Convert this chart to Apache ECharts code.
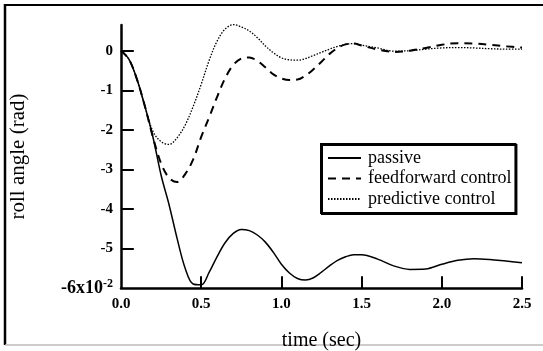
<!DOCTYPE html>
<html>
<head>
<meta charset="utf-8">
<script src="https://cdn.jsdelivr.net/npm/echarts@6/dist/echarts.min.js"></script>
<style>
  html, body { margin: 0; padding: 0; background: #fff; }
  #chart { width: 543px; height: 351px; }
</style>
</head>
<body>
<div id="chart"></div>
<script>
// time samples (sec)
const times = [0, 0.05, 0.1, 0.15, 0.2, 0.25, 0.3, 0.35, 0.4, 0.45, 0.5, 0.55, 0.6, 0.65, 0.7, 0.75, 0.8, 0.85, 0.9, 0.95,
  1.0, 1.05, 1.1, 1.15, 1.2, 1.25, 1.3, 1.35, 1.4, 1.45, 1.5, 1.6, 1.7, 1.8, 1.9, 2.0, 2.1, 2.2, 2.3, 2.4, 2.5];

// roll angle, in units of 10^-2 rad
const passive = [0, -0.22, -0.73, -1.42, -2.2, -3.15, -3.9, -4.75, -5.5, -5.9, -5.92, -5.6, -5.2, -4.85, -4.62, -4.52, -4.55, -4.66, -4.84, -5.1,
  -5.4, -5.62, -5.76, -5.8, -5.74, -5.6, -5.44, -5.3, -5.21, -5.16, -5.16, -5.27, -5.44, -5.53, -5.52, -5.4, -5.3, -5.26, -5.28, -5.32, -5.36];
const feedforward = [0, -0.22, -0.73, -1.42, -2.2, -2.85, -3.22, -3.32, -3.12, -2.75, -2.18, -1.68, -1.16, -0.69, -0.36, -0.2, -0.17, -0.26, -0.42, -0.6,
  -0.7, -0.74, -0.73, -0.63, -0.47, -0.28, -0.08, 0.07, 0.16, 0.18, 0.13, 0.03, -0.03, 0.0, 0.07, 0.15, 0.19, 0.18, 0.15, 0.11, 0.08];
const predictive = [0, -0.22, -0.73, -1.42, -2.05, -2.3, -2.37, -2.2, -1.88, -1.41, -0.85, -0.24, 0.25, 0.55, 0.66, 0.6, 0.5, 0.33, 0.12, -0.05,
  -0.18, -0.23, -0.24, -0.2, -0.12, -0.04, 0.04, 0.11, 0.16, 0.18, 0.14, 0.07, -0.01, 0.0, 0.04, 0.07, 0.08, 0.07, 0.05, 0.04, 0.04];

const yTicks = [-6, -5, -4, -3, -2, -1, 0];
const xTicks = [0, 0.5, 1.0, 1.5, 2.0, 2.5];

const FONT = "'Liberation Serif', 'DejaVu Serif', serif";
const Y_MIN = -6;
const X_MIN = 0;
// inward tick length, in axis units
const X_TICK_LEN = 0.3;
const Y_TICK_LEN = 0.08;

function pairs(ys) {
  return times.map((t, i) => [t, ys[i]]);
}

// tick marks as short mark lines, positioned through the axis scales
const tickLines = [
  ...xTicks.filter((v) => v !== X_MIN).map((v) => [{ coord: [v, Y_MIN] }, { coord: [v, Y_MIN + X_TICK_LEN] }]),
  ...yTicks.filter((v) => v !== Y_MIN).map((v) => [{ coord: [X_MIN, v] }, { coord: [X_MIN + Y_TICK_LEN, v] }]),
];

const chart = echarts.init(document.getElementById("chart"));

chart.setOption({
  animation: false,
  backgroundColor: "#fff",
  textStyle: { fontFamily: FONT, color: "#000" },
  grid: { left: 121, right: 21, top: 25, bottom: 63, outerBoundsMode: "none", containLabel: false },
  legend: {
    orient: "vertical",
    left: 321,
    top: 144,
    padding: [4, 4, 4, 6],
    itemGap: 0.5,
    itemWidth: 33,
    itemHeight: 20,
    borderColor: "#000",
    borderWidth: 2,
    shadowColor: "#000",
    shadowOffsetX: 1,
    shadowOffsetY: 1,
    shadowBlur: 0,
    backgroundColor: "#fff",
    itemStyle: { opacity: 0 },
    textStyle: { fontFamily: FONT, fontSize: 18, lineHeight: 20, color: "#000", padding: [0, 0, 0, 2] },
    data: ["passive", "feedforward control", "predictive control"],
  },
  xAxis: {
    type: "value",
    min: X_MIN,
    max: 2.5,
    interval: 0.5,
    name: "time (sec)",
    nameLocation: "middle",
    nameGap: 43,
    nameTextStyle: { fontFamily: FONT, fontSize: 20, color: "#000" },
    axisLine: { show: true, onZero: false, lineStyle: { color: "#000", width: 2.5 } },
    axisTick: { show: false },
    axisLabel: {
      margin: 9,
      fontFamily: FONT,
      fontSize: 15,
      fontWeight: "bold",
      color: "#000",
      customValues: xTicks,
      formatter: (v) => v.toFixed(1),
    },
    splitLine: { show: false },
  },
  yAxis: {
    type: "value",
    min: Y_MIN,
    max: 0.65,
    name: "roll angle (rad)",
    nameLocation: "middle",
    nameRotate: 90,
    nameGap: 92,
    nameTextStyle: { fontFamily: FONT, fontSize: 21, color: "#000" },
    axisLine: { show: true, onZero: false, lineStyle: { color: "#000", width: 2.5 } },
    axisTick: { show: false },
    axisLabel: {
      margin: 8,
      fontFamily: FONT,
      fontSize: 15,
      fontWeight: "bold",
      color: "#000",
      customValues: yTicks,
      formatter: (v) => (v === -6 ? "{b|-6x10}{s|-2}" : String(v)),
      rich: {
        b: { fontFamily: FONT, fontSize: 18, fontWeight: "bold", color: "#000" },
        s: { fontFamily: FONT, fontSize: 12, fontWeight: "bold", color: "#000", verticalAlign: "top", padding: [0, 0, 9, 0] },
      },
    },
    splitLine: { show: false },
  },
  graphic: [
    { type: "line", shape: { x1: 5, y1: 4, x2: 5, y2: 345 }, style: { stroke: "#000", lineWidth: 2.5 } },
    { type: "line", shape: { x1: 5, y1: 5, x2: 543, y2: 5 }, style: { stroke: "#000", lineWidth: 2 } },
    { type: "line", shape: { x1: 5, y1: 345, x2: 543, y2: 345 }, style: { stroke: "#bbb", lineWidth: 1.5 } },
  ],
  series: [
    {
      name: "passive",
      type: "line",
      smooth: 0.35,
      symbol: "none",
      clip: false,
      lineStyle: { color: "#000", width: 1.5 },
      itemStyle: { color: "#000" },
      data: pairs(passive),
      markLine: {
        silent: true,
        animation: false,
        symbol: ["none", "none"],
        label: { show: false },
        emphasis: { disabled: true },
        lineStyle: { color: "#000", width: 2, type: "solid" },
        data: tickLines,
      },
    },
    {
      name: "feedforward control",
      type: "line",
      smooth: 0.35,
      symbol: "none",
      clip: false,
      lineStyle: { color: "#000", width: 2, type: [8, 6] },
      itemStyle: { color: "#000" },
      data: pairs(feedforward),
    },
    {
      name: "predictive control",
      type: "line",
      smooth: 0.35,
      symbol: "none",
      clip: false,
      lineStyle: { color: "#000", width: 1.3, type: [1.5, 1.5] },
      itemStyle: { color: "#000" },
      data: pairs(predictive),
    },
  ],
});
</script>
</body>
</html>
